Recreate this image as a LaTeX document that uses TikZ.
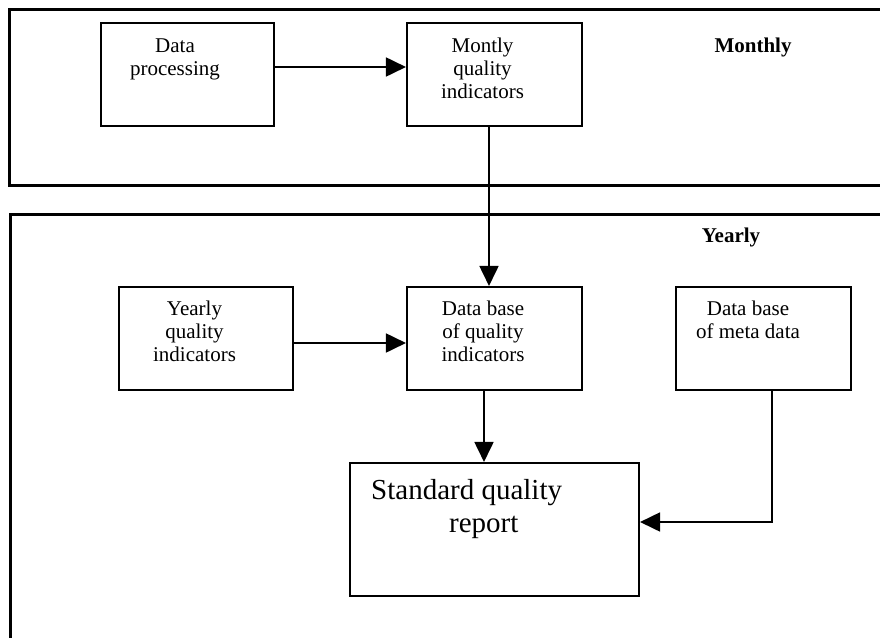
\documentclass[tikz,border=0pt]{standalone}
\usepackage{fontspec}
\setmainfont{Liberation Serif}
\usetikzlibrary{arrows.meta}
\begin{document}
\begin{tikzpicture}[x=1pt,y=-1pt,
  frame/.style={draw, line width=2.6pt, rectangle, inner sep=0pt, anchor=north west},
  box/.style={draw, line width=2.1pt, rectangle, inner sep=0pt},
  txt/.style={inner sep=0pt, align=center, anchor=base, font=\fontsize{21}{23}\selectfont},
  lbl/.style={inner sep=0pt, anchor=base, font=\fontsize{21}{23}\selectfont\bfseries},
  arr/.style={line width=1.8pt, -{Triangle[length=20pt,width=19pt]}}]
\clip (0,0) rectangle (880,637);
% frames
\node[frame, minimum width=892pt, minimum height=176pt] (fm) at (8,8) {};
\node[frame, minimum width=892pt, minimum height=470pt] (fy) at (9,213) {};
% boxes
\node[box, minimum width=173pt, minimum height=103pt] (dp) at (187.5,74.5) {};
\node[box, minimum width=175pt, minimum height=103pt] (mq) at (494.5,74.5) {};
\node[box, minimum width=174pt, minimum height=103pt] (yq) at (206,338.5) {};
\node[box, minimum width=175pt, minimum height=103pt] (dbq) at (494.5,338.5) {};
\node[box, minimum width=175pt, minimum height=103pt] (meta) at (763.5,338.5) {};
\node[box, minimum width=289pt, minimum height=133pt] (rep) at (494.5,529.5) {};
% texts (anchor = baseline of last line)
\node[txt] (dpt) at (175,75) {Data\\processing};
\node[txt] (mqt) at (482.5,98) {Montly\\quality\\indicators};
\node[txt] (yqt) at (194.5,361) {Yearly\\quality\\indicators};
\node[txt] (dbqt) at (483,361) {Data base\\of quality\\indicators};
\node[txt] (metat) at (748,338) {Data base\\of meta data};
\node[lbl] (monthly) at (753,52) {Monthly};
\node[lbl] (yearly) at (731,242) {Yearly};
\node[inner sep=0pt, anchor=base west, align=left, font=\fontsize{29}{33}\selectfont] (rept) at (371,532) {Standard quality\\\hspace*{78pt}report};
% connectors
\draw[arr] ([yshift=7.5pt]dp.east) -- ([yshift=7.5pt]mq.west);
\draw[arr] ([xshift=-5.5pt]mq.south) -- ([xshift=-5.5pt]dbq.north);
\draw[arr] ([yshift=-4.5pt]yq.east) -- ([yshift=-4.5pt]dbq.west);
\draw[arr] ([xshift=-10.5pt]dbq.south) -- ([xshift=-10.5pt]rep.north);
\draw[arr] ([xshift=8.5pt]meta.south) |- ([yshift=7.5pt]rep.east);
\end{tikzpicture}
\end{document}
